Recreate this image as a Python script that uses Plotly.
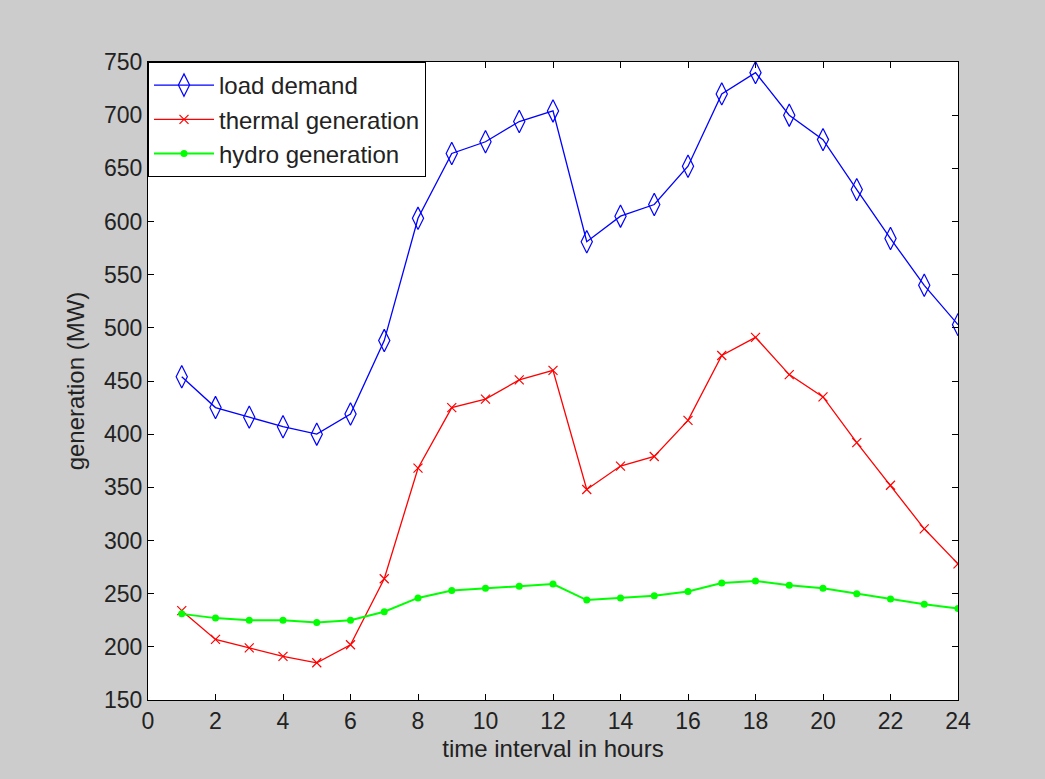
import plotly.graph_objects as go

hours = list(range(1, 25))
load_demand = [454, 425, 416, 407, 400, 419, 488, 603, 664, 675, 694, 704,
               581, 605, 616, 652, 720, 740, 700, 677, 630, 584, 540, 503]
thermal_gen = [234, 207, 199, 191, 185, 202, 264, 368, 425, 433, 451, 460,
               348, 370, 379, 413, 474, 491, 456, 435, 392, 352, 311, 278]
hydro_gen = [231, 227, 225, 225, 223, 225, 233, 246, 253, 255, 257, 259,
             244, 246, 248, 252, 260, 262, 258, 255, 250, 245, 240, 236]

x_ticks = list(range(0, 25, 2))
y_ticks = list(range(150, 751, 50))

FONT = "Liberation Sans, Arial"

fig = go.Figure()
fig.add_trace(go.Scatter(x=hours, y=load_demand, mode="lines+markers", name="load demand",
                         line=dict(color="#0000ff", width=1.3),
                         marker=dict(symbol="diamond-tall-open", size=16, color="#0000ff",
                                     line=dict(width=1.2, color="#0000ff"))))
fig.add_trace(go.Scatter(x=hours, y=thermal_gen, mode="lines+markers", name="thermal generation",
                         line=dict(color="#ff0000", width=1.3),
                         marker=dict(symbol="x-thin-open", size=9, color="#ff0000",
                                     line=dict(width=1.2, color="#ff0000"))))
fig.add_trace(go.Scatter(x=hours, y=hydro_gen, mode="lines+markers", name="hydro generation",
                         line=dict(color="#00ff00", width=2),
                         marker=dict(symbol="circle", size=7, color="#00ff00")))

axis_common = dict(showgrid=False, zeroline=False, showline=True, linecolor="black",
                   linewidth=1, mirror="ticks", ticks="inside", ticklen=6,
                   tickcolor="black", tickfont=dict(family=FONT, size=23, color="#222222"))

fig.update_xaxes(range=[0, 24], tickvals=x_ticks,
                 title=dict(text="time interval in hours", font=dict(family=FONT, size=24, color="#222222"), standoff=7),
                 **axis_common)
fig.update_yaxes(range=[150, 750], tickvals=y_ticks,
                 title=dict(text="generation (MW)", font=dict(family=FONT, size=24, color="#222222"), standoff=12),
                 **axis_common)

fig.update_layout(
    width=1045, height=779,
    margin=dict(l=148, r=87, t=62, b=79),
    paper_bgcolor="#cccccc", plot_bgcolor="white",
    legend=dict(x=0, y=1, xanchor="left", yanchor="top", bgcolor="white",
                bordercolor="black", borderwidth=1,
                font=dict(family=FONT, size=24, color="#222222"),
                tracegroupgap=0, itemwidth=60),
    showlegend=True,
)

fig.write_html("out.html")
